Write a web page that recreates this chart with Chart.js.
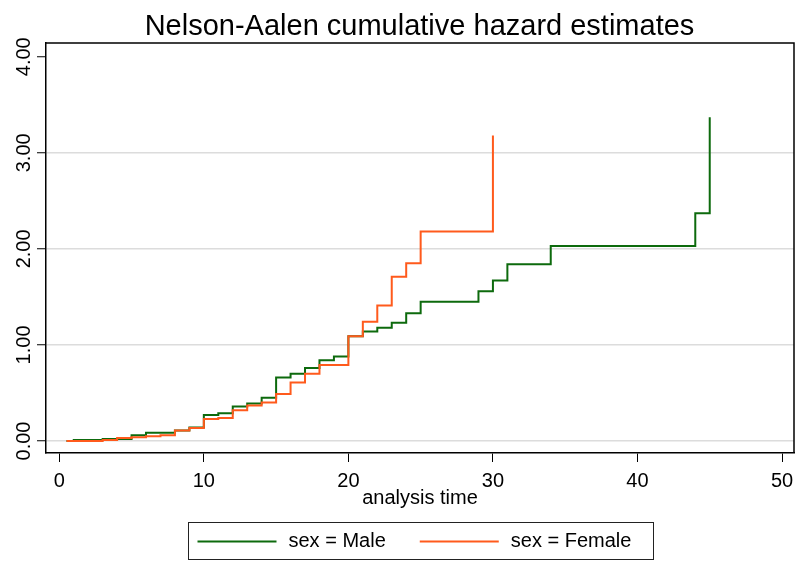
<!DOCTYPE html>
<html>
<head>
<meta charset="utf-8">
<title>Nelson-Aalen cumulative hazard estimates</title>
<script src="https://cdn.jsdelivr.net/npm/chart.js@4.4.1/dist/chart.umd.min.js"></script>
<style>
  html, body { margin: 0; padding: 0; background: #fff; }
  #wrap { width: 795px; height: 561px; }
</style>
</head>
<body>
<div id="wrap"><canvas id="hazardChart" width="795" height="561"></canvas></div>
<script>
// failure times and the cumulative hazard reached at each one
var maleTimes    = [0.5, 1, 3, 5, 6, 8, 9, 10, 11, 12, 13, 14, 15, 16, 17, 18, 19, 20, 21, 22, 23, 24, 25, 29, 30, 31, 34, 44, 45];
var maleHazard   = [0, 0.01, 0.02, 0.06, 0.085, 0.11, 0.14, 0.27, 0.29, 0.36, 0.39, 0.45, 0.66, 0.70, 0.76, 0.84, 0.88, 1.09, 1.14, 1.18, 1.23, 1.33, 1.45, 1.56, 1.67, 1.84, 2.03, 2.37, 3.37];
var femaleTimes  = [0.5, 3, 4, 5, 6, 7, 8, 9, 10, 11, 12, 13, 14, 15, 16, 17, 18, 20, 21, 22, 23, 24, 25, 30];
var femaleHazard = [0, 0.01, 0.03, 0.04, 0.05, 0.06, 0.11, 0.135, 0.23, 0.24, 0.32, 0.37, 0.40, 0.49, 0.61, 0.70, 0.79, 1.09, 1.24, 1.41, 1.71, 1.85, 2.18, 3.18];
var seriesLabels = ['sex = Male', 'sex = Female'];
var xTickValues  = [0, 10, 20, 30, 40, 50];
var yTickValues  = [0, 1, 2, 3, 4];
var yTickLabels  = ['0.00', '1.00', '2.00', '3.00', '4.00'];

var FONT = '"Liberation Sans", Arial, sans-serif';

function toPoints(times, values) {
    return times.map(function (t, i) { return { x: t, y: values[i] }; });
}

// frame edges, rotated y labels and the boxed legend
var extras = {
    id: 'extras',
    afterDraw: function (chart) {
        var ctx = chart.ctx;
        var area = chart.chartArea;
        var yScale = chart.scales.y;
        ctx.save();

        ctx.strokeStyle = '#000';
        ctx.lineWidth = 1.5;
        ctx.beginPath();
        ctx.moveTo(area.left, area.top);
        ctx.lineTo(area.right, area.top);
        ctx.lineTo(area.right, area.bottom);
        ctx.stroke();

        ctx.font = '20px ' + FONT;
        ctx.fillStyle = '#000';
        ctx.textAlign = 'center';
        ctx.textBaseline = 'alphabetic';
        yTickValues.forEach(function (v, i) {
            var py = yScale.getPixelForValue(v);
            ctx.save();
            ctx.translate(area.left - 16, py);
            ctx.rotate(-Math.PI / 2);
            ctx.fillText(yTickLabels[i], 0, 0);
            ctx.restore();
        });

        // legend
        var sample = 79, gap = 12, itemGap = 34, padL = 9, padR = 22;
        var items = chart.data.datasets.map(function (ds) {
            return { text: ds.label, color: ds.borderColor, w: ctx.measureText(ds.label).width };
        });
        var content = 0;
        items.forEach(function (it, i) { content += sample + gap + it.w + (i ? itemGap : 0); });
        var boxW = Math.round(content + padL + padR);
        var cx = (area.left + area.right) / 2;
        var boxLeft = Math.round(cx - boxW / 2) + 0.5;
        var boxTop = chart.height - 38.5;
        ctx.strokeStyle = '#222';
        ctx.lineWidth = 1;
        ctx.strokeRect(boxLeft, boxTop, boxW, 37);

        var rowY = boxTop + 19;
        var x = boxLeft + padL;
        ctx.textAlign = 'left';
        ctx.textBaseline = 'middle';
        items.forEach(function (it) {
            ctx.strokeStyle = it.color;
            ctx.lineWidth = 2;
            ctx.beginPath();
            ctx.moveTo(x, rowY);
            ctx.lineTo(x + sample, rowY);
            ctx.stroke();
            ctx.fillText(it.text, x + sample + gap, rowY);
            x += sample + gap + it.w + itemGap;
        });
        ctx.restore();
    }
};

var ctx = document.getElementById('hazardChart').getContext('2d');
var hazardChart = new Chart(ctx, {
    type: 'line',
    data: {
        datasets: [{
            label: seriesLabels[0],
            data: toPoints(maleTimes, maleHazard),
            borderColor: '#0d6a0d',
            borderWidth: 2,
            stepped: 'before',
            pointRadius: 0,
            fill: false,
            order: 1
        }, {
            label: seriesLabels[1],
            data: toPoints(femaleTimes, femaleHazard),
            borderColor: '#ff5a1c',
            borderWidth: 2,
            stepped: 'before',
            pointRadius: 0,
            fill: false,
            order: 0
        }]
    },
    options: {
        responsive: false,
        animation: false,
        layout: { padding: { left: 45, right: 1, top: 0, bottom: 52 } },
        plugins: {
            legend: { display: false },
            tooltip: { enabled: false },
            title: {
                display: true,
                text: 'Nelson-Aalen cumulative hazard estimates',
                color: '#000',
                font: { family: FONT, size: 29, weight: 'normal', lineHeight: 1 },
                padding: { top: 12, bottom: 2 }
            }
        },
        scales: {
            x: {
                type: 'linear',
                min: -0.92,
                max: 50.83,
                afterBuildTicks: function (axis) {
                    axis.ticks = xTickValues.map(function (v) { return { value: v }; });
                },
                afterFit: function (axis) {
                    axis.height = 56;
                    axis.paddingLeft = 0;
                    axis.paddingRight = 0;
                },
                grid: { drawOnChartArea: false, tickLength: 9, tickColor: '#000', tickWidth: 1 },
                border: { color: '#000', width: 1.5 },
                ticks: { color: '#000', padding: 7, maxRotation: 0, font: { family: FONT, size: 20 } },
                title: {
                    display: true,
                    text: 'analysis time',
                    color: '#000',
                    font: { family: FONT, size: 20 },
                    padding: { top: 0, bottom: -1 }
                }
            },
            y: {
                type: 'linear',
                min: -0.125,
                max: 4.143,
                afterBuildTicks: function (axis) {
                    axis.ticks = yTickValues.map(function (v) { return { value: v }; });
                },
                afterFit: function (axis) {
                    axis.width = 1;
                    axis.paddingTop = 0;
                    axis.paddingBottom = 0;
                },
                grid: {
                    color: function (c) { return c.tick && c.tick.value === 4 ? 'rgba(0,0,0,0)' : '#dcdcdc'; },
                    lineWidth: 1.5,
                    tickLength: 9,
                    tickColor: '#000',
                    tickWidth: 1
                },
                border: { color: '#000', width: 1.5 },
                ticks: { display: false }
            }
        }
    },
    plugins: [extras]
});
</script>
</body>
</html>
